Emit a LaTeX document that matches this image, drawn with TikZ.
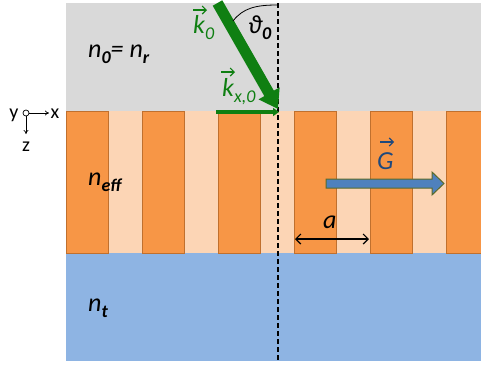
\documentclass[tikz,border=0pt]{standalone}
\usepackage{fontspec}
\setmainfont{Carlito}
\usetikzlibrary{arrows.meta}
\definecolor{bggray}{HTML}{D9D9D9}
\definecolor{barorange}{HTML}{F79646}
\definecolor{barline}{HTML}{C0702E}
\definecolor{gaporange}{HTML}{FCD5B5}
\definecolor{subblue}{HTML}{8EB4E3}
\definecolor{kgreen}{HTML}{0F7F12}
\definecolor{gfill}{HTML}{4F81BD}
\definecolor{gline}{HTML}{5A6B2B}
\definecolor{gtext}{HTML}{1F497D}
\newcommand{\subs}[1]{\raisebox{-0.25em}{\fontsize{18}{18}\selectfont #1}}
\begin{document}
\begin{tikzpicture}[
x=1pt,y=-1pt,
bar/.style={fill=barorange, draw=barline, line width=0.6pt},
lbl/.style={font=\fontsize{26}{30}\selectfont\itshape, inner sep=0pt, anchor=base west},
axlbl/.style={font=\fontsize{20}{24}\selectfont, inner sep=0pt, anchor=base},
vec/.style={-{Straight Barb[length=4pt,width=8pt]}, line width=1.1pt},
kbeam/.style={draw=kgreen, line width=11pt, -{Triangle[length=18pt,width=23pt]}},
kxbeam/.style={draw=kgreen, line width=3.2pt, -{Triangle[length=6pt,width=8pt]}},
axarrow/.style={-{To[length=4pt,width=5pt]}, line width=0.7pt}
]
\useasboundingbox (0,0) rectangle (481,365);
% layers
\fill[bggray] (66,3) rectangle (481,111);
\fill[gaporange] (66,111) rectangle (481,253);
\fill[subblue] (66,253) rectangle (481,361);
\begin{scope}
\clip (66,100) rectangle (481,260);
\foreach \x in {66,142,...,447}
  \draw[bar] (\x,111) rectangle ++(42,142);
\end{scope}
% surface normal
\coordinate (normtop) at (278,3);
\coordinate (normbot) at (278,361);
\draw[line width=1.2pt, dash pattern=on 5pt off 3pt] (normtop) -- (normbot);
% incident wave vector
\coordinate (k0start) at (217.5,3);
\coordinate (k0tip) at (278,109);
\draw[kbeam] (k0start) -- (k0tip);
\coordinate (kxstart) at (216,112);
\coordinate (kxtip) at (279,112);
\draw[kxbeam] (kxstart) -- (kxtip);
% angle
\coordinate (arcstart) at (233,21);
\coordinate (arcend) at (277,5);
\draw[line width=0.8pt] (arcstart) .. controls (243,8) and (256,5) .. (arcend);
% grating vector
\draw[fill=gfill, draw=gline, line width=1pt]
  (326,179) -- (432,179) -- (432,172) -- (444,183.5) -- (432,195) -- (432,188) -- (326,188) -- cycle;
% period
\coordinate (perL) at (295,239);
\coordinate (perR) at (369,239);
\draw[{Straight Barb[length=5pt,width=10pt]}-{Straight Barb[length=5pt,width=10pt]}, line width=1.2pt] (perL) -- (perR);
% labels
\node[lbl] (n0) at (88,57) {n\subs{\bfseries 0}= n\subs{\bfseries r}};
\node[lbl] (neff) at (88,185) {n\subs{\bfseries eff}};
\node[lbl] (nt) at (88,311) {n\subs{\bfseries t}};
\node[lbl, text=kgreen] (k0) at (193,33) {k\subs{0}};
\draw[vec, kgreen] (193,10) -- (207,10);
\node[lbl, text=kgreen] (kx0) at (222,96) {k\subs{x,0}};
\draw[vec, kgreen] (221,72) -- (235,72);
\node[lbl] (theta) at (248,33) {ϑ\subs{\bfseries 0}};
\node[lbl, text=gtext] (G) at (377,169) {G};
\draw[vec, gtext] (380,142) -- (394,142);
\node[lbl] (a) at (323,228) {a};
% axes
\coordinate (orig) at (26,113);
\draw[line width=0.7pt] (orig) circle (3);
\coordinate (xend) at (49,113);
\coordinate (zend) at (26,134);
\draw[axarrow] (29,113) -- (xend);
\draw[axarrow] (26,116) -- (zend);
\node[axlbl] (ylab) at (14,118) {y};
\node[axlbl] (xlab) at (55,118) {x};
\node[axlbl] (zlab) at (26,151) {z};
\end{tikzpicture}
\end{document}
